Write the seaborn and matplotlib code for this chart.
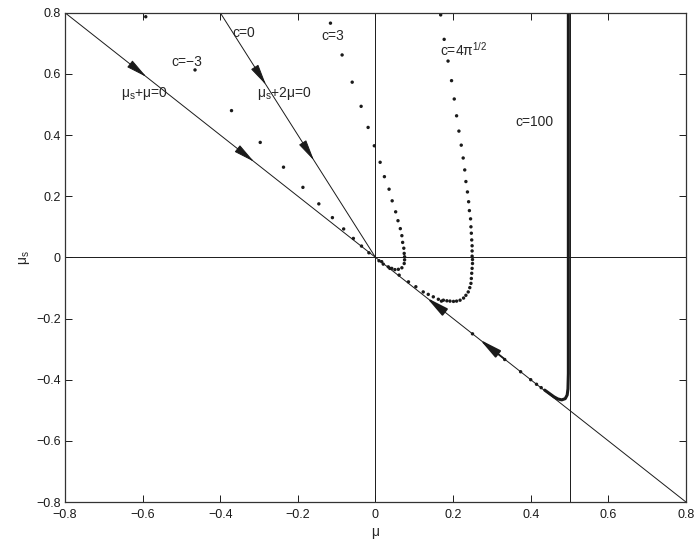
import matplotlib
matplotlib.use("Agg")
import matplotlib.pyplot as plt
import seaborn as sns
import numpy as np

# trajectories (mu, mu_s)
cm3_mu = [-0.592, -0.465, -0.371, -0.297, -0.237, -0.187, -0.146, -0.111, -0.082, -0.057, -0.036, -0.017]
cm3_mus = [0.787, 0.613, 0.480, 0.376, 0.295, 0.229, 0.175, 0.130, 0.093, 0.062, 0.037, 0.015]

c3_mu = [-0.116, -0.086, -0.060, -0.037, -0.019, -0.003, 0.012, 0.023, 0.035, 0.043, 0.052, 0.058,
         0.064, 0.068, 0.070, 0.073, 0.074, 0.075, 0.075, 0.074, 0.068, 0.059, 0.050, 0.042,
         0.033, 0.020, 0.009]
c3_mus = [0.766, 0.662, 0.573, 0.494, 0.425, 0.365, 0.311, 0.264, 0.223, 0.185, 0.149, 0.120,
          0.094, 0.071, 0.049, 0.030, 0.013, 0.002, -0.008, -0.020, -0.034, -0.039, -0.040, -0.036,
          -0.031, -0.022, -0.011]

c4_mu = [0.168, 0.177, 0.187, 0.196, 0.203, 0.209, 0.215, 0.221, 0.226, 0.230, 0.233, 0.237,
         0.240, 0.242, 0.245, 0.246, 0.247, 0.248, 0.249, 0.249, 0.249, 0.250, 0.250, 0.249,
         0.248, 0.247, 0.246, 0.243, 0.239, 0.233, 0.227, 0.218, 0.209, 0.201, 0.192, 0.184,
         0.175, 0.170, 0.162, 0.149, 0.136, 0.123, 0.104, 0.085, 0.061, 0.037, 0.016]
c4_mus = [0.793, 0.713, 0.642, 0.578, 0.518, 0.463, 0.413, 0.367, 0.325, 0.286, 0.248, 0.214,
          0.182, 0.153, 0.126, 0.100, 0.079, 0.057, 0.038, 0.021, 0.004, -0.007, -0.020, -0.036,
          -0.052, -0.069, -0.085, -0.099, -0.113, -0.124, -0.133, -0.140, -0.143, -0.144, -0.143, -0.142,
          -0.140, -0.143, -0.137, -0.129, -0.121, -0.113, -0.096, -0.080, -0.058, -0.036, -0.014]

c100_dot_mu = [0.250, 0.333, 0.374, 0.400, 0.415, 0.427]
c100_dot_mus = [-0.250, -0.334, -0.374, -0.400, -0.415, -0.426]
c100_mu = [0.436, 0.448, 0.460, 0.470, 0.480, 0.489, 0.494, 0.496, 0.497, 0.497, 0.497]
c100_mus = [-0.434, -0.445, -0.456, -0.463, -0.466, -0.462, -0.450, -0.430, -0.380, 0.000, 0.800]

# arrow (tail, tip) pairs along the invariant lines
arrow_tails = [(-0.62, 0.62), (-0.34, 0.34), (-0.297, 0.594), (-0.173, 0.346), (0.17, -0.17), (0.33, -0.33)]
arrow_tips = [(-0.59, 0.59), (-0.313, 0.313), (-0.282, 0.564), (-0.1585, 0.317), (0.132, -0.132), (0.269, -0.269)]

xticks = [-0.8, -0.6, -0.4, -0.2, 0, 0.2, 0.4, 0.6, 0.8]
tick_labels = ['\u22120.8', '\u22120.6', '\u22120.4', '\u22120.2', '0', '0.2', '0.4', '0.6', '0.8']

sns.set_theme(style='ticks')
plt.rcParams['font.family'] = ['Liberation Sans', 'DejaVu Sans']
plt.rcParams['mathtext.fontset'] = 'custom'
plt.rcParams['mathtext.rm'] = 'Liberation Sans'
plt.rcParams['mathtext.it'] = 'Liberation Sans'

fig = plt.figure(figsize=(7, 5.43), dpi=100)
ax = fig.add_axes([0.0929, 0.0755, 0.887, 0.901])

lw = 0.7
ax.plot([-0.8, 0.8], [0.8, -0.8], color='k', lw=lw)
ax.plot([-0.4, 0], [0.8, 0], color='k', lw=lw)
ax.axhline(0, color='k', lw=lw)
ax.axvline(0, color='k', lw=lw)
ax.axvline(0.5, color='k', lw=lw)

dot_kw = dict(color='k', s=6, edgecolor='none', ax=ax, legend=False)
sns.scatterplot(x=cm3_mu, y=cm3_mus, **dot_kw)
sns.scatterplot(x=c3_mu, y=c3_mus, **dot_kw)
sns.scatterplot(x=c4_mu, y=c4_mus, **dot_kw)
sns.scatterplot(x=c100_dot_mu, y=c100_dot_mus, **dot_kw)
ax.plot(c100_mu, c100_mus, color='k', lw=2.2, solid_capstyle='round')

for i, ((tx, ty), (hx, hy)) in enumerate(zip(arrow_tails, arrow_tips)):
    ax.annotate('', xy=(hx, hy), xytext=(tx, ty),
                arrowprops=dict(arrowstyle='-|>,head_length=1.1,head_width=0.22',
                                mutation_scale=12, color='k',
                                lw=1.3 if i >= 4 else 0.7,
                                shrinkA=0, shrinkB=0))

fs = 10
ax.text(-0.368, 0.735, 'c=0', fontsize=fs, va='center')
ax.text(-0.525, 0.64, 'c=\u22123', fontsize=fs, va='center')
ax.text(-0.139, 0.724, 'c=3', fontsize=fs, va='center')
ax.text(0.166, 0.678, r'c=4π$\mathregular{^{1/2}}$', fontsize=fs, va='center')
ax.text(0.36, 0.444, 'c=100', fontsize=fs, va='center')
ax.text(-0.655, 0.535, r'$\mathregular{μ_s}$+μ=0', fontsize=fs, va='center')
ax.text(-0.305, 0.535, r'$\mathregular{μ_s}$+2μ=0', fontsize=fs, va='center')

ax.set_xlim(-0.8, 0.8)
ax.set_ylim(-0.8, 0.8)
ax.set_xticks(xticks)
ax.set_xticklabels(tick_labels)
ax.set_yticks(xticks)
ax.set_yticklabels(tick_labels)
ax.tick_params(direction='in', top=True, right=True, length=5, width=0.7,
               labelsize=9, pad=3, colors='k')
ax.tick_params(axis='x', pad=5)
for sp in ax.spines.values():
    sp.set_visible(True)
    sp.set_color('#333333')
    sp.set_linewidth(0.9)
ax.set_xlabel('μ', fontsize=10, labelpad=3)
ax.set_ylabel(r'$\mathregular{μ_s}$', fontsize=10, labelpad=3)

fig.savefig('out.png', dpi=100)
